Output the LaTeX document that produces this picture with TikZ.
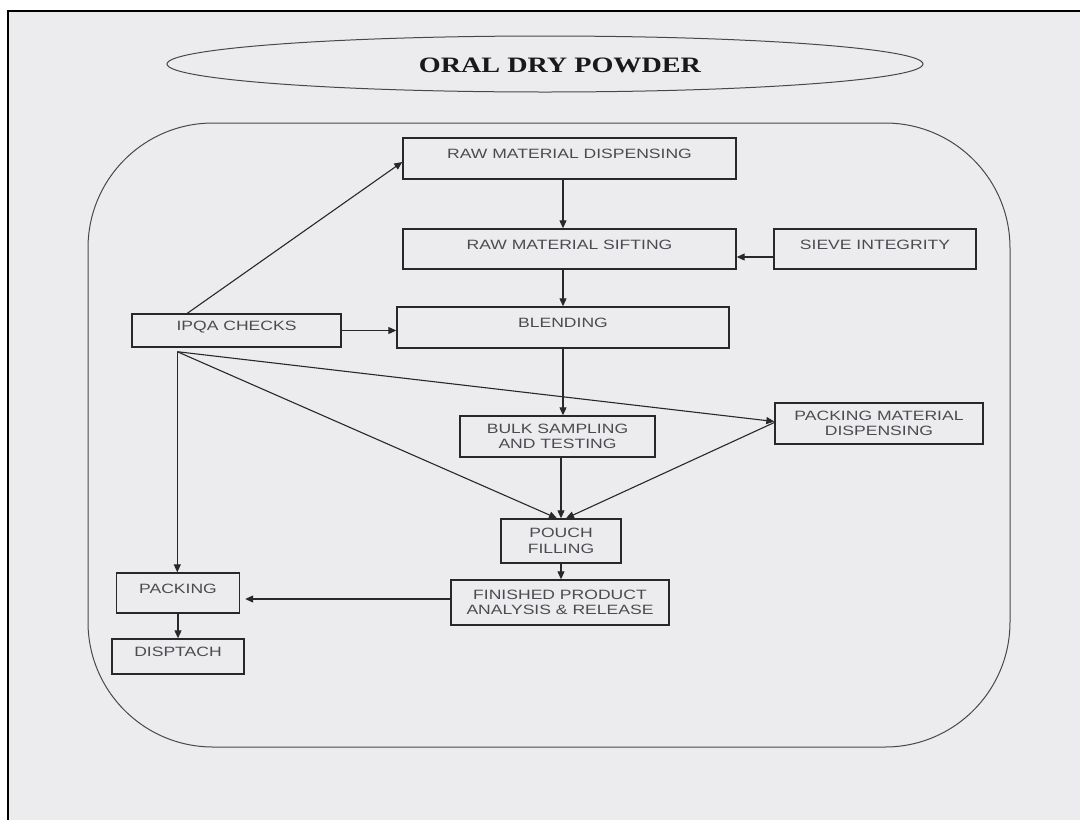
\documentclass[tikz,border=0pt]{standalone}
\usepackage{fontspec}
\usetikzlibrary{arrows.meta,calc,shapes.geometric}
\newfontfamily\boxfont[FakeStretch=1.3]{Liberation Sans}
\newfontfamily\titlefont[FakeStretch=1.28]{Liberation Serif}
\definecolor{bg}{RGB}{236,236,239}
\definecolor{ink}{RGB}{40,40,40}
\definecolor{txt}{RGB}{75,75,80}
\begin{document}
\begin{tikzpicture}[x=1pt,y=-1pt,
  box/.style={draw=ink,line width=1.4pt,inner sep=0pt,font=\boxfont\fontsize{13.5}{15.5}\selectfont,text=txt,align=center},
  one/.style={text height=5pt,text depth=5pt},
  arr/.style={draw=ink,line width=1.1pt,-{Triangle[length=8pt,width=7pt]}},
  ]
\useasboundingbox (0,0) rectangle (1080,820);
\fill[white] (0,0) rectangle (1080,820);
\fill[bg] (8,11) rectangle (1080,820);
\draw[line width=2.5pt] (8,820) -- (8,11) -- (1080,11);

% title
\node[draw=ink!85,line width=1pt,ellipse,minimum width=756pt,minimum height=56pt,inner sep=0pt] (titleoval) at (545,64) {};
\node[font=\titlefont\bfseries\fontsize{22}{24}\selectfont,text=black!90] (title) at (560,65) {ORAL DRY POWDER};

% frame
\draw[ink!85,line width=1pt,rounded corners=125pt] (88,123) rectangle (1010,747);

% boxes
\node[box,one,minimum width=333pt,minimum height=41pt] (rmd) at (569.5,158.5) {RAW MATERIAL DISPENSING};
\node[box,one,minimum width=333pt,minimum height=40pt] (rms) at (569.5,249) {RAW MATERIAL SIFTING};
\node[box,one,minimum width=202pt,minimum height=40pt] (sieve) at (875,249) {SIEVE INTEGRITY};
\node[box,one,minimum width=332pt,minimum height=41pt] (blend) at (563,327.5) {BLENDING};
\node[box,one,minimum width=209pt,minimum height=33pt] (ipqa) at (236.5,330.5) {IPQA CHECKS};
\node[box,minimum width=195pt,minimum height=41pt] (bulk) at (557.5,436.5) {BULK SAMPLING\\AND TESTING};
\node[box,minimum width=208pt,minimum height=41pt] (pmd) at (879,423.5) {PACKING MATERIAL\\DISPENSING};
\node[box,minimum width=120pt,minimum height=44pt] (pouch) at (561,541) {POUCH\\FILLING};
\node[box,minimum width=218pt,minimum height=45pt] (fpar) at (560,602.5) {FINISHED PRODUCT\\ANALYSIS \& RELEASE};
\node[box,one,minimum width=123pt,minimum height=40pt] (packing) at (178,593) {PACKING};
\node[box,one,minimum width=132pt,minimum height=35pt] (disp) at (178,656.5) {DISPTACH};

% connectors
\coordinate (ipqaout) at ($(ipqa.south west)+(46,4)$);
\draw[arr] ([xshift=56pt]ipqa.north west) -- ([yshift=-3.5pt]rmd.west);
\draw[arr] (rmd.south -| blend.north) -- (rms.north -| blend.north);
\draw[arr] (rms.south -| blend.north) -- (blend.north);
\draw[arr] ([yshift=-8pt]sieve.west) -- ([yshift=-8pt]sieve.west -| rms.east);
\draw[arr] (ipqa.east) -- (ipqa.east -| blend.west);
\draw[arr] (blend.south) -- (blend.south |- bulk.north);
\draw[arr] (pouch.north |- bulk.south) -- (pouch.north);
\draw[arr] (ipqaout) -- (ipqaout |- packing.north);
\draw[arr] (ipqaout) -- ([xshift=-4pt]pouch.north);
\draw[arr] (ipqaout) -- ([yshift=2pt]pmd.west);
\draw[arr] ([yshift=1pt]pmd.west) -- ([xshift=5pt]pouch.north);
\draw[arr] (pouch.south) -- (pouch.south |- fpar.north);
\draw[arr,shorten >=5pt] ([yshift=3.5pt]fpar.west) -- ([yshift=3.5pt]fpar.west -| packing.east);
\draw[arr] (packing.south) -- (disp.north);
\end{tikzpicture}
\end{document}
